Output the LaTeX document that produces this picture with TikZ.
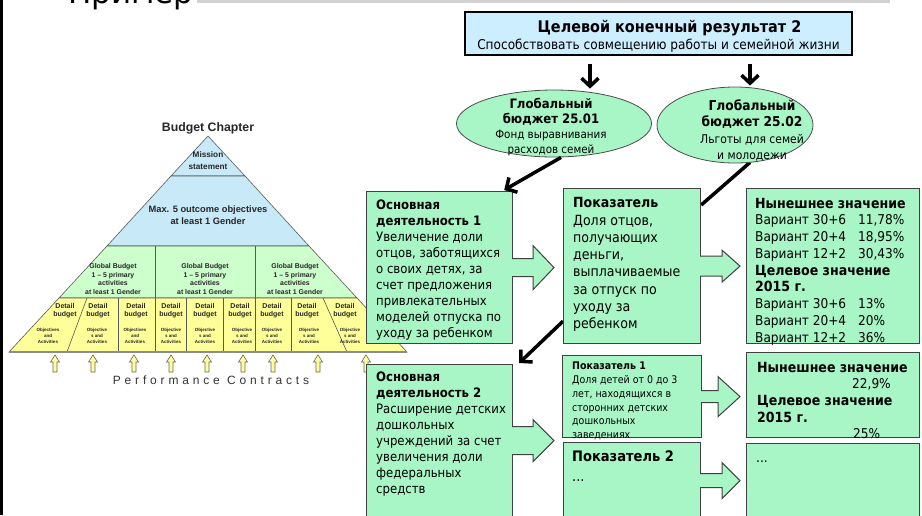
\documentclass[tikz,border=0pt]{standalone}
\usepackage{fontspec}
\setmainfont{DejaVu Sans Condensed}
\newfontfamily\pyrfont{Liberation Sans}
\newfontfamily\pyrspaced[LetterSpace=32]{Liberation Sans}
\newfontfamily\titlefont{DejaVu Sans}
\usetikzlibrary{shapes.geometric}
\usetikzlibrary{arrows.meta}
\usetikzlibrary{calc}
\usetikzlibrary{positioning}
\usetikzlibrary{backgrounds}

\definecolor{mint}{RGB}{168,245,198}
\definecolor{headblue}{RGB}{204,238,255}
\definecolor{pyrblue}{RGB}{200,233,248}
\definecolor{pyrgreen}{RGB}{204,255,204}
\definecolor{pyryellow}{RGB}{255,255,153}
\definecolor{bargray}{RGB}{210,210,210}

% start, tip, shaft half width, head half width, head length
\newcommand{\blockarrow}[5]{%
  \draw[barrow] let \p1=(#1), \p2=(#2) in
    (\x1-1pt,\y1+#3pt) -- (\x2-#5pt,\y1+#3pt) -- (\x2-#5pt,\y1+#4pt) -- (\x2,\y1)
    -- (\x2-#5pt,\y1-#4pt) -- (\x2-#5pt,\y1-#3pt) -- (\x1-1pt,\y1-#3pt);}
\newcommand{\optline}[2]{\makebox[103pt][l]{#1}#2}
\newcommand{\bighead}[2]{{\fontsize{#1}{16}\selectfont\bfseries #2}}

\begin{document}
\begin{tikzpicture}[x=1pt, y=-1pt,
    greenbox/.style={draw=black!75, line width=1.2pt, fill=mint, inner sep=0pt, anchor=north west},
    boxtext/.style 2 args={anchor=north west, align=left, inner sep=0pt, font=\fontsize{#1}{#2}\selectfont},
    budget/.style={ellipse, draw=black!70, line width=0.8pt, fill=mint, inner sep=0pt},
    bigarrow/.style={line width=3.5pt, -{Straight Barb[length=8pt,width=17pt]}},
    thickline/.style={line width=3.5pt},
    barrow/.style={draw=black!75, line width=1pt, fill=mint},
    pyr/.style={draw=black!65, line width=0.6pt},
    pyrtext/.style 2 args={font=\pyrfont\bfseries\fontsize{#1}{#2}\selectfont, text=black!85, align=center, inner sep=0pt},
    uparrow/.style={draw=black!60, line width=0.6pt, fill=pyryellow}]

    \useasboundingbox (0,0) rectangle (922,515);
    \clip (0,0) rectangle (922,515);

    % slide frame
    \node[anchor=base west, inner sep=0pt, font=\titlefont\fontsize{31}{31}\selectfont] (title) at (68,3) {Пример};
    \fill[bargray] (197,0) rectangle (890,3);
    \fill[black] (0,0) rectangle (3,515);

    % pyramid
    \filldraw[pyr, fill=pyrblue] (208,136) -- (245,176) -- (171,176) -- cycle;
    \filldraw[pyr, fill=pyrblue] (171,176) -- (245,176) -- (309,246) -- (107,246) -- cycle;
    \filldraw[pyr, fill=pyrgreen] (107,246) -- (309,246) -- (357,298) -- (59,298) -- cycle;
    \filldraw[pyr, fill=pyryellow] (59,298) -- (357,298) -- (407,352) -- (9,352) -- cycle;
    \draw[pyr] (155,246) -- (155,298) (255,246) -- (255,298);
    \draw[pyr] (87,298) -- (67,352) (323,298) -- (347,352);
    \foreach \vx in {118,155,186,223,255,291}
        \draw[pyr] (\vx,298) -- (\vx,352);
    \draw[black!45, line width=1.5pt] (9,352) -- (407,352);

    \node[pyrtext={12.3}{14}] (chapter) at (208,128) {Budget Chapter};
    \node[pyrtext={8.2}{12}] (mission) at (208,161) {Mission\\statement};
    \node[pyrtext={9.3}{12}] (outcome) at (208,215) {Max. 5 outcome objectives\\at least 1 Gender};
    \foreach \gx [count=\i] in {113,205,295}
        \node[pyrtext={6.9}{8.7}] (global\i) at (\gx,279) {Global Budget\\1 – 5 primary\\activities\\at least 1 Gender};
    \foreach \dx/\ox/\oa/\ob [count=\i] in {65/48/Objectives/and, 98/97/Objective/s and, 136/135/Objectives/and,
            171/171/Objective/s and, 205/205/Objective/s and, 240/242/Objective/s and,
            272/272/Objective/s and, 307/309/Objective/s and, 345/350/Objective/s and}{
        \node[pyrtext={7}{8}] (detail\i) at (\dx,311) {Detail\\budget};
        \node[pyrtext={4.5}{6}] (objective\i) at (\ox,336) {\oa\\\ob\\Activities};
    }

    \foreach \ux in {55,93,134,171,207,243,273,318,366}
        \filldraw[uparrow] (\ux-2,372) -- (\ux-2,362) -- (\ux-4.5,362) -- (\ux,355)
            -- (\ux+4.5,362) -- (\ux+2,362) -- (\ux+2,372) -- cycle;
    \node[font=\pyrspaced\fontsize{12}{14}\selectfont, text=black!80, inner sep=0pt] (perf) at (211,380) {Performance Contracts};

    % goal and global budgets
    \node[draw=black, line width=2pt, fill=headblue, minimum width=387pt, minimum height=43pt,
          anchor=north west, inner sep=0pt] (goal) at (464,11) {};
    \node[align=center, inner sep=0pt, font=\fontsize{13.5}{17}\selectfont] (goaltxt) at ($(goal.center)+(0,3)$)
        {\hspace*{22pt}\bighead{16}{Целевой конечный результат 2}\\Способствовать совмещению работы и семейной жизни};

    \node[budget, minimum width=195pt, minimum height=67pt] (gb1) at (554,123.5) {};
    \node[align=center, inner sep=0pt, font=\fontsize{11.5}{15}\selectfont] (gb1txt) at ($(gb1.center)+(-3,4)$)
        {\bighead{13}{Глобальный}\\\bighead{13}{бюджет 25.01}\\Фонд выравнивания\\расходов семей};
    \node[budget, minimum width=156pt, minimum height=76pt] (gb2) at (735,125) {};
    \node[align=center, inner sep=0pt, font=\fontsize{12}{16.3}\selectfont] (gb2txt) at ($(gb2.center)+(17,5.5)$)
        {\bighead{13.6}{Глобальный}\\\bighead{13.6}{бюджет 25.02}\\Льготы для семей\\и молодежи};

    \draw[bigarrow] ($(goal.south west)+(126,8)$) -- ($(gb1.north)+(36,-1)$);
    \draw[bigarrow] ($(goal.south west)+(286,8)$) -- ($(gb2.north)+(15,-1)$);

    % activities, indicators, values
    \node[greenbox, minimum width=146pt, minimum height=152pt] (act1) at (366,191) {};
    \node[boxtext={13}{16}] (act1txt) at ($(act1.north west)+(10,8.5)$)
        {\textbf{Основная}\\\textbf{деятельность 1}\\Увеличение доли\\отцов, заботящихся\\о своих детях, за\\счет предложения\\привлекательных\\моделей отпуска по\\уходу за ребенком};

    \node[greenbox, minimum width=137pt, minimum height=155pt] (ind1) at (563,188) {};
    \node[boxtext={14}{17.3}] (ind1txt) at ($(ind1.north west)+(10,9.3)$)
        {\textbf{Показатель}\\Доля отцов,\\получающих\\деньги,\\выплачиваемые\\за отпуск по\\уходу за\\ребенком};

    \node[greenbox, minimum width=173pt, minimum height=155pt] (val1) at (746,188) {};
    \node[boxtext={13.5}{16.75}] (val1txt) at ($(val1.north west)+(9,9.6)$)
        {\bighead{14}{Нынешнее значение}\\\optline{Вариант 30+6}{11,78\%}\\\optline{Вариант 20+4}{18,95\%}\\\optline{Вариант 12+2}{30,43\%}\\
         \bighead{14}{Целевое значение}\\\bighead{14}{2015 г.}\\\optline{Вариант 30+6}{13\%}\\\optline{Вариант 20+4}{20\%}\\\optline{Вариант 12+2}{36\%}};

    \node[greenbox, minimum width=146pt, minimum height=152pt] (act2) at (366,364) {};
    \node[boxtext={13}{16}] (act2txt) at ($(act2.north west)+(10,7.5)$)
        {\textbf{Основная}\\\textbf{деятельность 2}\\Расширение детских\\дошкольных\\учреждений за счет\\увеличения доли\\федеральных\\средств};

    \node[greenbox, minimum width=139pt, minimum height=82pt] (ind2a) at (562,355) {};
    \node[boxtext={10.5}{13.8}] (ind2atxt) at ($(ind2a.north west)+(10,6.8)$)
        {\textbf{Показатель 1}\\Доля детей от 0 до 3\\лет, находящихся в\\сторонних детских\\дошкольных\\заведениях};

    \node[greenbox, minimum width=137pt, minimum height=76pt] (ind2b) at (563,442) {};
    \node[boxtext={14.5}{20}] (ind2btxt) at ($(ind2b.north west)+(9,9)$) {\textbf{Показатель 2}\\...};

    \node[greenbox, minimum width=173pt, minimum height=85pt] (val2) at (746,352) {};
    \node[boxtext={13.5}{16.7}] (val2txt) at ($(val2.north west)+(11,9.6)$)
        {\bighead{14}{Нынешнее значение}\\\hspace*{95pt}22,9\%\\\bighead{14}{Целевое значение}\\\bighead{14}{2015 г.}\\\hspace*{96pt}25\%};

    \node[greenbox, minimum width=173pt, minimum height=76pt] (val3) at (746,443) {};
    \node[boxtext={13.5}{16}, anchor=base west] (val3txt) at ($(val3.north west)+(10,19)$) {...};

    % connectors hidden behind the boxes
    \begin{scope}[on background layer]
        \draw[thickline] ($(gb2.south)+(15,-1)$) -- ($(ind1.north east)+(0,17)$);
        \draw[bigarrow] ($(ind1.south west)+(0,-23)$) -- ($(act2.north east)+(6,-1)$);
    \end{scope}
    \draw[bigarrow] ($(gb1.south)+(7,0)$) -- ($(act1.north east)+(-9,-1)$);

    \blockarrow{act1.east}{$(ind1.west)+(-9,0)$}{9}{22}{21}
    \blockarrow{ind1.east}{$(val1.west)+(-6,0)$}{10}{16}{18}
    \blockarrow{act2.east}{$(ind2b.west)+(-9,0)$}{14}{21}{21}
    \blockarrow{ind2a.east}{$(val2.west)+(-6,0)$}{6}{20}{22}
    \blockarrow{ind2b.east}{$(val3.west)+(-6,0)$}{7}{18}{18}

\end{tikzpicture}
\end{document}
